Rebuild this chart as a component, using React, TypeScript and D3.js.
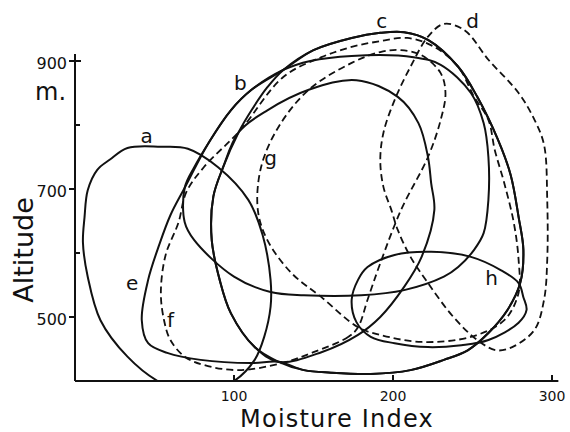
import React from 'react'
import * as d3 from 'd3'

type Pt = [number, number] // [moisture index, altitude (m)]

// envelopes
const curveA: Pt[] = [
  [52, 400], [33, 438], [16, 495], [8, 563], [5, 616], [6, 656], [8, 698], [14, 730],
  [22, 746], [33, 764], [54, 766], [71, 763], [90, 734], [109, 683], [118, 628], [123, 558],
  [123, 516], [119, 469], [113, 433], [100, 400], [76, 378],
]

const curveB: Pt[] = [
  [69, 702], [75, 734], [84, 772], [98, 823], [111, 855], [131, 886], [148, 900], [174, 908],
  [213, 906], [230, 894], [249, 850], [257, 803], [260, 750], [260, 683], [257, 631],
  [251, 605], [241, 578], [232, 563], [207, 542], [180, 534], [144, 534], [123, 539],
  [100, 563], [75, 620], [69, 648],
]

const curveC: Pt[] = [
  [131, 886], [150, 917], [174, 936], [192, 944], [207, 945], [222, 933], [241, 891],
  [253, 844], [266, 777], [274, 722], [279, 656], [282, 605], [280, 553], [272, 511],
  [260, 475], [247, 448], [232, 433], [211, 417], [186, 411], [161, 413], [144, 417],
  [128, 430], [113, 453], [98, 506], [91, 558], [86, 620], [87, 688], [93, 733],
  [103, 789], [111, 823], [121, 859],
]

const curveD: Pt[] = [
  [232, 958], [245, 948], [260, 902], [279, 850], [289, 808], [295, 769], [297, 683],
  [297, 589], [295, 527], [289, 480], [275, 453], [265, 448], [253, 464], [238, 500],
  [222, 553], [211, 594], [203, 636], [199, 667], [194, 703], [192, 745], [194, 788],
  [201, 839], [211, 891], [222, 938],
]

const curveE: Pt[] = [
  [69, 702], [60, 659], [53, 613], [46, 558], [42, 495], [46, 459], [58, 444], [79, 433],
  [111, 428], [128, 430], [144, 417], [161, 413], [186, 411], [211, 417], [232, 433],
  [247, 448], [260, 475], [272, 511], [280, 553], [282, 605], [279, 656], [274, 722],
  [266, 777], [253, 844], [241, 891], [222, 933], [207, 945], [192, 944], [174, 936],
  [150, 917], [131, 886], [111, 855], [98, 823], [84, 772],
]

// inner solid loop sharing the left side of c
const innerLoop: Pt[] = [
  [128, 430], [155, 445], [178, 472], [192, 500], [207, 547], [218, 594], [226, 667],
  [224, 709], [222, 750], [216, 803], [203, 844], [177, 870], [147, 855], [121, 823],
  [103, 789], [93, 733], [87, 688], [86, 620], [91, 558], [98, 506], [113, 453],
]

// f and g cross at their first point, drawn as one dashed path
const curveF: Pt[] = [
  [178, 484], [172, 469], [150, 445], [130, 428], [103, 417], [81, 425], [69, 438],
  [60, 464], [56, 495], [54, 538], [57, 597], [65, 647], [70, 695], [81, 734], [104, 792],
  [131, 875], [155, 906], [174, 922], [192, 931], [209, 936], [226, 922], [241, 891],
  [251, 844], [260, 808], [264, 761], [270, 709], [276, 647], [279, 589], [279, 538],
  [270, 495], [249, 469], [218, 461], [192, 472],
]

const curveG: Pt[] = [
  [178, 484], [155, 531], [136, 569], [121, 620], [115, 667], [117, 734], [128, 797],
  [147, 855], [174, 897], [192, 914], [205, 917], [218, 909], [230, 881], [233, 850],
  [230, 808], [222, 750], [205, 667], [192, 584], [184, 527],
]

const curveH: Pt[] = [
  [174, 527], [178, 558], [184, 578], [201, 597], [224, 602], [249, 594], [268, 573],
  [279, 553], [282, 531], [284, 511], [279, 491], [260, 464], [243, 456], [222, 453],
  [201, 459], [186, 469], [177, 492],
]

const curveNames = ['a', 'b', 'c', 'd', 'e', 'f', 'g', 'h']
const labelAt: Pt[] = [
  [45, 772], [104, 855], [193, 952], [250, 952], [36, 542], [60, 484], [123, 738], [262, 550],
]

const xTicks = [100, 200, 300]
const yTicks = [500, 700, 900]
const yMinor = [600, 800]

const W = 570
const H = 432

export default function App() {
  const x = d3.scaleLinear().domain([0, 300]).range([75, 552])
  const y = d3.scaleLinear().domain([400, 900]).range([381, 61])

  const closed = d3
    .line<Pt>()
    .x((d) => x(d[0]))
    .y((d) => y(d[1]))
    .curve(d3.curveCatmullRomClosed.alpha(0.5))

  const solid = [curveA, curveB, curveC, curveE, innerLoop, curveH]
  const dashed = [curveD, [...curveF, ...curveG]]

  const ink = '#111'
  const font = 'DejaVu Sans, sans-serif'

  return (
    <svg
      width={W}
      height={H}
      style={{ position: 'absolute', left: 0, top: 0, background: '#fff' }}
    >
      <defs>
        <clipPath id='plot'>
          <rect x={x(0)} y={0} width={W - x(0)} height={y(400)} />
        </clipPath>
      </defs>

      <g clipPath='url(#plot)' fill='none' stroke={ink} strokeLinejoin='round'>
        {solid.map((c, i) => (
          <path key={'s' + i} d={closed(c) || ''} strokeWidth={2} />
        ))}
        {dashed.map((c, i) => (
          <path key={'d' + i} d={closed(c) || ''} strokeWidth={1.8} strokeDasharray='7 4' />
        ))}
      </g>

      {/* axes */}
      <g stroke={ink} strokeWidth={2}>
        <line x1={x(0)} x2={x(0)} y1={y(400)} y2={y(911)} />
        <line x1={x(0)} x2={x(304)} y1={y(400)} y2={y(400)} />
        {yTicks.map((t) => (
          <line key={t} x1={x(0) - 6} x2={x(0) + (t === 900 ? 6 : 0)} y1={y(t)} y2={y(t)} />
        ))}
        {yMinor.map((t) => (
          <line key={t} x1={x(0)} x2={x(0) + 5} y1={y(t)} y2={y(t)} />
        ))}
        {xTicks.map((t) => (
          <line key={t} x1={x(t)} x2={x(t)} y1={y(400)} y2={y(400) - 6} />
        ))}
      </g>

      <g fill={ink} fontFamily={font}>
        {yTicks.map((t) => (
          <text key={t} x={x(0) - 8} y={y(t) + 2} dy='0.35em' textAnchor='end' fontSize={16}>
            {t}
          </text>
        ))}
        {xTicks.map((t) => (
          <text key={t} x={x(t)} y={401} textAnchor='middle' fontSize={14}>
            {t}
          </text>
        ))}
        <text x={35} y={100} fontSize={24}>
          m.
        </text>
        <text transform='translate(33,250) rotate(-90)' textAnchor='middle' fontSize={27}>
          Altitude
        </text>
        <text x={337} y={427} textAnchor='middle' fontSize={24} letterSpacing={1.2}>
          Moisture Index
        </text>
        {curveNames.map((n, i) => (
          <text
            key={n}
            x={x(labelAt[i][0])}
            y={y(labelAt[i][1])}
            textAnchor='middle'
            fontSize={20}
          >
            {n}
          </text>
        ))}
      </g>
    </svg>
  )
}
